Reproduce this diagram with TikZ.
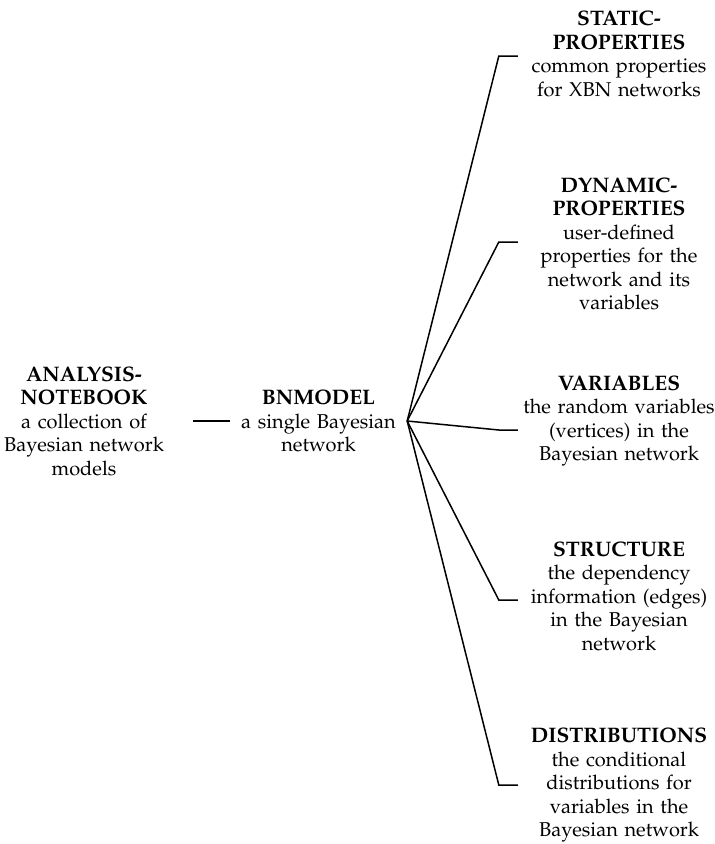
\documentclass[tikz,border=0pt]{standalone}
\usepackage[T1]{fontenc}
\usepackage{mathpazo}
% bold heading inside a node
\newcommand\hd[1]{{\fontsize{21}{23.5}\selectfont\bfseries #1}}
\begin{document}
\begin{tikzpicture}[x=1pt,y=-1pt,
  box/.style={align=center, inner sep=0pt, font=\fontsize{20}{23.5}\selectfont},
  leaf/.style={box, text width=202pt},
  link/.style={draw=black, line width=1.5pt, line join=miter}]
\useasboundingbox (0,0) rectangle (715,844);

% root and its single child
\node[box, text width=218pt] (an) at (84,421)
  {\hd{ANALYSIS-}\\\hd{NOTEBOOK}\\a collection of\\Bayesian network\\models};
\node[box, text width=177pt] (bn) at (318.5,421)
  {\hd{BNMODEL}\\a single Bayesian\\network};

% components of a network model
\node[leaf] (st) at (619,54)
  {\hd{STATIC-}\\\hd{PROPERTIES}\\common properties\\for XBN networks};
\node[leaf] (dy) at (619,244)
  {\hd{DYNAMIC-}\\\hd{PROPERTIES}\\user-defined\\properties for the\\network and its\\variables};
\node[leaf] (va) at (619,421)
  {\hd{VARIABLES}\\the random variables\\(vertices) in the\\Bayesian network};
\node[leaf] (sr) at (619,596)
  {\hd{STRUCTURE}\\the dependency\\information (edges)\\in the Bayesian\\network};
\node[leaf] (di) at (619,785)
  {\hd{DISTRIBUTIONS}\\the conditional\\distributions for\\variables in the\\Bayesian network};

% forked connectors
\draw[link] (an.east) -- (bn.west);
\draw[link] (bn.east) -- ([xshift=-19pt,yshift=-2pt]st.west) -- ([yshift=-2pt]st.west);
\draw[link] (bn.east) -- ([xshift=-19pt,yshift=2pt]dy.west) -- ([yshift=2pt]dy.west);
\draw[link] (bn.east) -- ([xshift=-19pt,yshift=-9pt]va.west) -- ([yshift=-9pt]va.west);
\draw[link] (bn.east) -- ([xshift=-19pt,yshift=-4pt]sr.west) -- ([yshift=-4pt]sr.west);
\draw[link] (bn.east) -- ([xshift=-19pt]di.west) -- (di.west);
\end{tikzpicture}
\end{document}
